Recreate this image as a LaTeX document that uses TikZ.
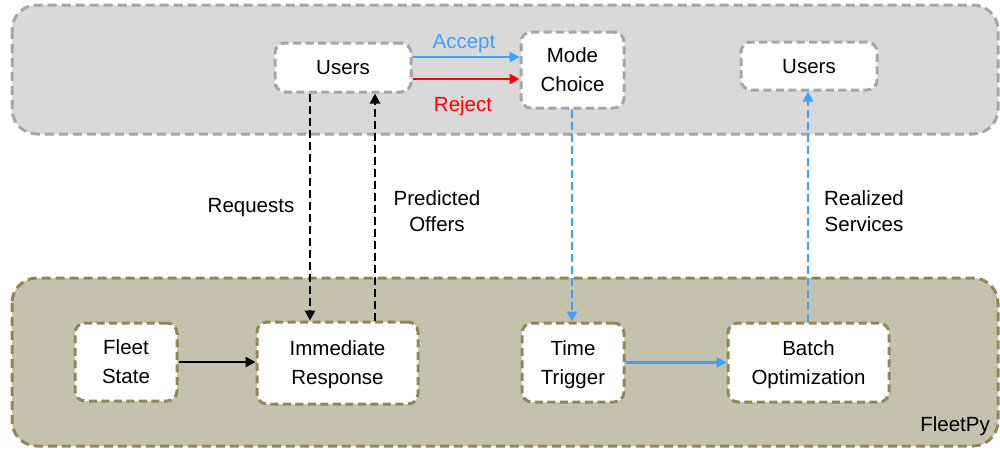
\documentclass[tikz,border=0pt]{standalone}
\usepackage{fontspec}
\setmainfont{Liberation Sans}
\usetikzlibrary{arrows.meta}
\definecolor{topfill}{RGB}{217,217,217}
\definecolor{topline}{RGB}{166,166,166}
\definecolor{botfill}{RGB}{196,193,173}
\definecolor{botline}{RGB}{148,134,84}
\definecolor{flowblue}{RGB}{61,160,255}
\definecolor{flowred}{RGB}{255,0,0}
\tikzset{
  layer/.style={rounded corners=25pt, line width=3pt, dash pattern=on 9pt off 5pt},
  toplayer/.style={layer, draw=topline, fill=topfill},
  botlayer/.style={layer, draw=botline, fill=botfill},
  box/.style={rounded corners=10pt, line width=3pt, dash pattern=on 8pt off 4.5pt,
    fill=white, inner sep=0pt, align=center, text depth=0pt,
    font=\fontsize{20.5}{29}\selectfont},
  topbox/.style={box, draw=topline},
  botbox/.style={box, draw=botline},
  lbl/.style={align=center, inner sep=0pt, font=\fontsize{20.5}{26}\selectfont},
  tip/.style={-{Triangle[length=10pt,width=10pt]}},
  flow/.style={tip, line width=2.8pt},
  dflow/.style={flow, dash pattern=on 8pt off 4pt},
}
\begin{document}
\begin{tikzpicture}[x=1pt,y=-1pt]
\useasboundingbox (0,0) rectangle (1000,451);

% two layers
\path[toplayer] (12,5) rectangle (998,134);
\path[botlayer] (12,278) rectangle (998,446);

% user side
\node[topbox, minimum width=136pt, minimum height=49pt] (users1) at (343,67.5) {Users};
\node[topbox, minimum width=103pt, minimum height=76pt] (mode) at (572.5,70) {Mode\\Choice};
\node[topbox, minimum width=136pt, minimum height=48pt] (users2) at (809,66) {Users};

% FleetPy side
\node[botbox, minimum width=102pt, minimum height=78pt] (fleet) at (126,362) {Fleet\\State};
\node[botbox, minimum width=161pt, minimum height=82pt] (imm) at (337.5,363) {Immediate\\Response};
\node[botbox, minimum width=102pt, minimum height=79pt] (trig) at (573,362.5) {Time\\Trigger};
\node[botbox, minimum width=161pt, minimum height=79pt] (batch) at (808.5,362.5) {Batch\\Optimization};

\node[lbl, anchor=base east] (fp) at (990,431) {FleetPy};

% choice arrows
\draw[flow, flowblue] (users1.east |- 0,57) -- (mode.west |- 0,57);
\draw[flow, flowred] (users1.east |- 0,79) -- (mode.west |- 0,79);
\node[lbl, text=flowblue, anchor=base] (acc) at (464,48) {Accept};
\node[lbl, text=flowred, anchor=base] (rej) at (463,111) {Reject};

% requests and offers
\draw[dflow, black] (users1.south -| 310,0) -- (imm.north -| 310,0);
\draw[dflow, black] (imm.north -| 375,0) -- (users1.south -| 375,0);
\node[lbl, anchor=base] (req) at (251,212) {Requests};
\node[lbl] (off) at (437,211) {Predicted\\Offers};

% batch path
\draw[dflow, flowblue] (mode.south -| 572,0) -- (trig.north -| 572,0);
\draw[dflow, flowblue] (batch.north -| 808,0) -- (users2.south -| 808,0);
\node[lbl] (real) at (864,211) {Realized\\Services};

% internal flows
\draw[flow, black] (fleet.east) -- (imm.west |- fleet.east);
\draw[flow, flowblue] (trig.east) -- (batch.west |- trig.east);
\end{tikzpicture}
\end{document}
